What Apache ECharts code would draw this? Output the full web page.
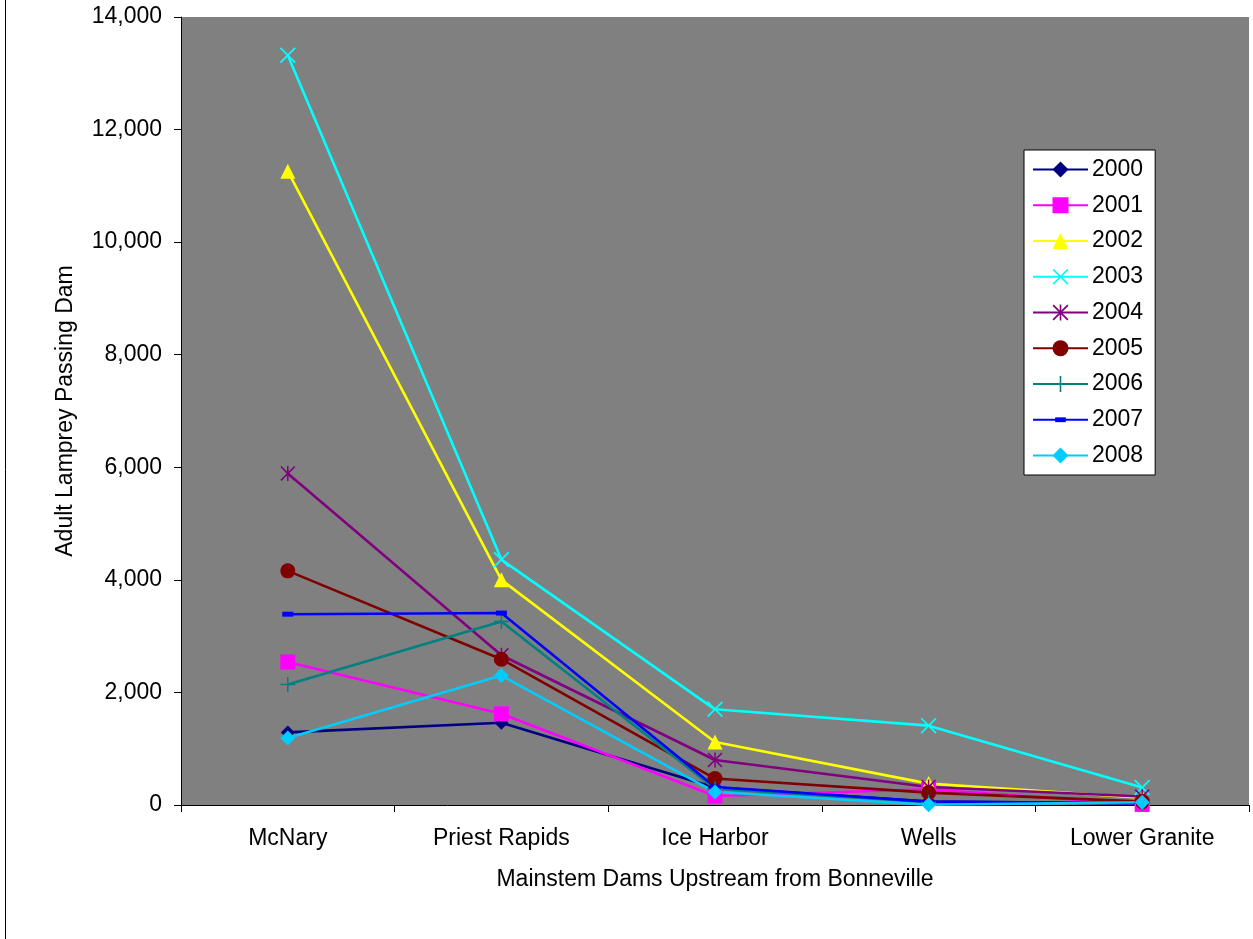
<!DOCTYPE html>
<html>
<head>
<meta charset="utf-8">
<script src="https://cdn.jsdelivr.net/npm/echarts@6/dist/echarts.min.js"></script>
<style>html,body{margin:0;padding:0;background:#fff}#c{width:1253px;height:939px}</style>
</head>
<body>
<div id="c"></div>
<script>
const categories = ['McNary', 'Priest Rapids', 'Ice Harbor', 'Wells', 'Lower Granite'];
const years = ['2000','2001','2002','2003','2004','2005','2006','2007','2008'];
const s2000 = [1290, 1460, 310, 60, 30];
const s2001 = [2540, 1620, 160, 280, 10];
const s2002 = [11260, 4000, 1120, 380, 130];
const s2003 = [13320, 4360, 1700, 1410, 310];
const s2004 = [5890, 2660, 800, 320, 150];
const s2005 = [4160, 2590, 470, 220, 60];
const s2006 = [2140, 3260, 290, 50, 30];
const s2007 = [3390, 3410, 320, 60, 30];
const s2008 = [1190, 2300, 230, 5, 50];
const yTicks = { min: 0, max: 14000, interval: 2000 };

const P_X = 'path://M0,1.5 L1.5,0 L10,8.5 L18.5,0 L20,1.5 L11.5,10 L20,18.5 L18.5,20 L10,11.5 L1.5,20 L0,18.5 L8.5,10 Z';
const P_STAR = 'path://M0,1.5 L1.5,0 L10,8.5 L18.5,0 L20,1.5 L11.5,10 L20,18.5 L18.5,20 L10,11.5 L1.5,20 L0,18.5 L8.5,10 Z M9,0 H11 V20 H9 Z';
const P_PLUS = 'path://M9,0 H11 V9 H20 V11 H11 V20 H9 V11 H0 V9 H9 Z';
const P_DASH = 'path://M0,0 M30,30 M5,10.5 H25 V19.5 H5 Z';

const seriesData = [s2000, s2001, s2002, s2003, s2004, s2005, s2006, s2007, s2008];
const styles = [
  { color: '#000080', symbol: 'diamond', size: 14 },
  { color: '#FF00FF', symbol: 'rect', size: 15 },
  { color: '#FFFF00', symbol: 'triangle', size: 15 },
  { color: '#00FFFF', symbol: P_X, size: 16 },
  { color: '#800080', symbol: P_STAR, size: 15 },
  { color: '#800000', symbol: 'circle', size: 15 },
  { color: '#008080', symbol: P_PLUS, size: 15 },
  { color: '#0000FF', symbol: P_DASH, size: 16.5 },
  { color: '#00CCFF', symbol: 'diamond', size: 15 }
];

const chart = echarts.init(document.getElementById('c'), null, { renderer: 'canvas' });
const font = 'Liberation Sans, Arial, sans-serif';
chart.setOption({
  animation: false,
  backgroundColor: '#ffffff',
  textStyle: { fontFamily: font },
  grid: {
    left: 181, top: 17, right: 4, bottom: 134,
    show: true, backgroundColor: '#808080', borderWidth: 0
  },
  legend: {
    orient: 'vertical',
    left: 1024, top: 150,
    padding: [8, 12, 8, 8],
    itemWidth: 55, itemHeight: 20, itemGap: 12.75,
    backgroundColor: '#ffffff',
    borderColor: '#000000', borderWidth: 1, borderRadius: 0,
    textStyle: { fontSize: 23, lineHeight: 23, color: '#000', fontFamily: font, padding: [0, 0, 0, -1] },
    data: years
  },
  xAxis: {
    type: 'category',
    data: categories,
    boundaryGap: true,
    name: 'Mainstem Dams Upstream from Bonneville',
    nameLocation: 'middle',
    nameGap: 63,
    nameTextStyle: { fontSize: 23, color: '#000', fontFamily: font },
    axisLine: { lineStyle: { color: '#000', width: 1 } },
    axisTick: { show: true, length: 7, alignWithLabel: false, lineStyle: { color: '#000' } },
    axisLabel: { fontSize: 23, color: '#000', margin: 22, fontFamily: font },
    splitLine: { show: false }
  },
  yAxis: {
    type: 'value',
    min: yTicks.min, max: yTicks.max, interval: yTicks.interval,
    name: 'Adult Lamprey Passing Dam',
    nameLocation: 'middle',
    nameGap: 104,
    nameTextStyle: { fontSize: 23, color: '#000', fontFamily: font },
    axisLine: { show: true, lineStyle: { color: '#000', width: 1 } },
    axisTick: { show: true, length: 7, lineStyle: { color: '#000' } },
    axisLabel: {
      fontSize: 23, color: '#000', margin: 19, fontFamily: font,
      formatter: v => v.toLocaleString('en-US')
    },
    splitLine: { show: false }
  },
  graphic: [
    { type: 'line', shape: { x1: 5.5, y1: 0, x2: 5.5, y2: 939 }, style: { stroke: '#000', lineWidth: 1 } }
  ],
  series: years.map((y, i) => ({
    name: y,
    type: 'line',
    data: seriesData[i],
    symbol: styles[i].symbol,
    symbolSize: styles[i].size,
    showAllSymbol: true,
    lineStyle: { color: styles[i].color, width: 2.6 },
    itemStyle: { color: styles[i].color, borderWidth: 0 },
    emphasis: { disabled: true }
  }))
});
</script>
</body>
</html>
